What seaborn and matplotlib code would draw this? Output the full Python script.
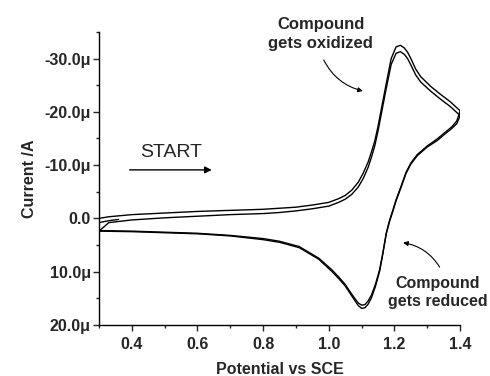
import numpy as np
import pandas as pd
import matplotlib
matplotlib.use("Agg")
import matplotlib.pyplot as plt
import seaborn as sns
from matplotlib.ticker import FixedLocator

# Cyclic voltammogram, two cycles. Currents in uA (negative = anodic, drawn at top)
e_start = [0.36, 0.34, 0.32, 0.30]
i_start = [0.2, 0.35, 0.55, 0.8]

e_fwd = [0.30, 0.33, 0.40, 0.50, 0.60, 0.70, 0.80, 0.85, 0.90, 0.95, 1.00, 1.03,
         1.05, 1.07, 1.09, 1.105, 1.12, 1.13, 1.14, 1.15, 1.16, 1.175, 1.19, 1.205,
         1.218, 1.23, 1.24, 1.25, 1.265, 1.28, 1.31, 1.34, 1.37, 1.40]
i_fwd1 = [0.0, -0.3, -0.7, -1.0, -1.3, -1.5, -1.7, -1.9, -2.1, -2.5, -3.0, -3.7,
          -4.3, -5.3, -6.8, -8.5, -10.6, -12.5, -14.5, -17.3, -20.5, -25.3, -30.0, -32.2,
          -32.5, -32.0, -31.2, -30.0, -28.0, -26.6, -24.8, -23.3, -21.9, -20.2]
i_fwd2 = [2.4, 0.8, 0.3, -0.1, -0.4, -0.7, -0.9, -1.1, -1.4, -1.8, -2.3, -3.0,
          -3.6, -4.5, -5.9, -7.5, -9.6, -11.5, -13.6, -16.4, -19.6, -24.4, -28.9, -31.0,
          -31.3, -30.8, -30.0, -28.8, -26.9, -25.6, -23.9, -22.4, -21.0, -19.3]

e_rev = [1.40, 1.39, 1.375, 1.355, 1.33, 1.30, 1.27, 1.25, 1.235, 1.22, 1.205,
         1.195, 1.185, 1.175, 1.165, 1.155, 1.142, 1.13, 1.12, 1.11, 1.10, 1.09, 1.08,
         1.065, 1.05, 1.03, 1.01, 0.97, 0.91, 0.85, 0.80, 0.70, 0.60, 0.50, 0.40, 0.30]
i_rev1 = [-20.2, -18.3, -17.2, -16.2, -14.9, -13.6, -12.0, -10.4, -8.6, -6.0, -3.5,
          -1.5, 0.4, 2.8, 6.5, 9.9, 12.8, 14.9, 16.1, 16.8, 16.9, 16.4, 15.5,
          14.1, 12.7, 11.3, 10.0, 7.7, 5.5, 4.5, 4.0, 3.3, 2.9, 2.7, 2.5, 2.4]
i_rev2 = [-19.3, -17.8, -16.9, -15.9, -14.6, -13.4, -11.8, -10.2, -8.4, -5.8, -3.3,
          -1.3, 0.6, 2.9, 6.4, 9.6, 12.4, 14.4, 15.5, 16.2, 16.3, 15.9, 15.1,
          13.8, 12.4, 11.0, 9.7, 7.5, 5.3, 4.3, 3.8, 3.2, 2.8, 2.6, 2.4, 2.3]

y_ticks = [-30, -20, -10, 0, 10, 20]
y_labels = ['-30.0\u03bc', '-20.0\u03bc', '-10.0\u03bc', '0.0', '10.0\u03bc', '20.0\u03bc']
x_ticks = [0.4, 0.6, 0.8, 1.0, 1.2, 1.4]

segments = [
    ('start', e_start, i_start),
    ('fwd1', e_fwd, i_fwd1),
    ('rev1', e_rev, i_rev1),
    ('fwd2', e_fwd, i_fwd2),
    ('rev2', e_rev, i_rev2),
]
frames = []
for name, e, i in segments:
    frames.append(pd.DataFrame({'E': e, 'I': i, 'seg': name}))
df = pd.concat(frames, ignore_index=True)

sns.set_style("ticks")
plt.rcParams['font.family'] = ['Liberation Sans', 'DejaVu Sans']

fig = plt.figure(figsize=(4.9, 3.76), dpi=100)
ax = fig.add_axes([0.202, 0.136, 0.737, 0.779])

sns.lineplot(data=df, x='E', y='I', hue='seg', sort=False, estimator=None,
             palette=['black'] * len(segments), linewidth=1.0, legend=False, ax=ax)

ax.set_xlim(0.3, 1.4)
ax.set_ylim(20, -35)
ax.set_xticks(x_ticks)
ax.set_xticklabels([f'{v:.1f}' for v in x_ticks])
ax.xaxis.set_minor_locator(FixedLocator([0.3, 0.5, 0.7, 0.9, 1.1, 1.3]))
ax.set_yticks(y_ticks)
ax.set_yticklabels(y_labels)
ax.yaxis.set_minor_locator(FixedLocator([-35, -25, -15, -5, 5, 15]))
ax.tick_params(which='major', length=4, width=1, direction='out', labelsize=11.5)
ax.tick_params(axis='x', which='major', pad=5)
ax.tick_params(axis='y', which='major', pad=2)
ax.tick_params(which='minor', length=2.5, width=1, direction='out')
for lab in ax.get_xticklabels() + ax.get_yticklabels():
    lab.set_fontweight('bold')
sns.despine(ax=ax)
for s in ['left', 'bottom']:
    ax.spines[s].set_linewidth(1)
    ax.spines[s].set_color('black')

ax.set_xlabel('Potential vs SCE', fontsize=11.5, fontweight='bold', labelpad=7)
ax.set_ylabel('Current /A', fontsize=11.5, fontweight='bold', labelpad=5)

# annotations
ax.text(0.521, -12.3, 'START', fontsize=14, ha='center', va='center')
ax.annotate('', xy=(0.652, -9.1), xytext=(0.385, -9.1),
            arrowprops=dict(arrowstyle='-|>', color='black', lw=1, mutation_scale=10))
ax.text(0.976, -34.6, 'Compound\ngets oxidized', fontsize=12, fontweight='bold',
        ha='center', va='center', linespacing=1.3, clip_on=False)
ax.annotate('', xy=(1.112, -23.8), xytext=(0.981, -30.2),
            arrowprops=dict(arrowstyle='-|>', color='black', lw=0.8, mutation_scale=7,
                            connectionstyle='arc3,rad=0.25'))
ax.text(1.331, 14.0, 'Compound\ngets reduced', fontsize=11.5, fontweight='bold',
        ha='center', va='center', linespacing=1.25)
ax.annotate('', xy=(1.218, 4.5), xytext=(1.342, 9.6),
            arrowprops=dict(arrowstyle='-|>', color='black', lw=0.8, mutation_scale=7,
                            connectionstyle='arc3,rad=0.25'))

fig.savefig('out.png', dpi=100)
